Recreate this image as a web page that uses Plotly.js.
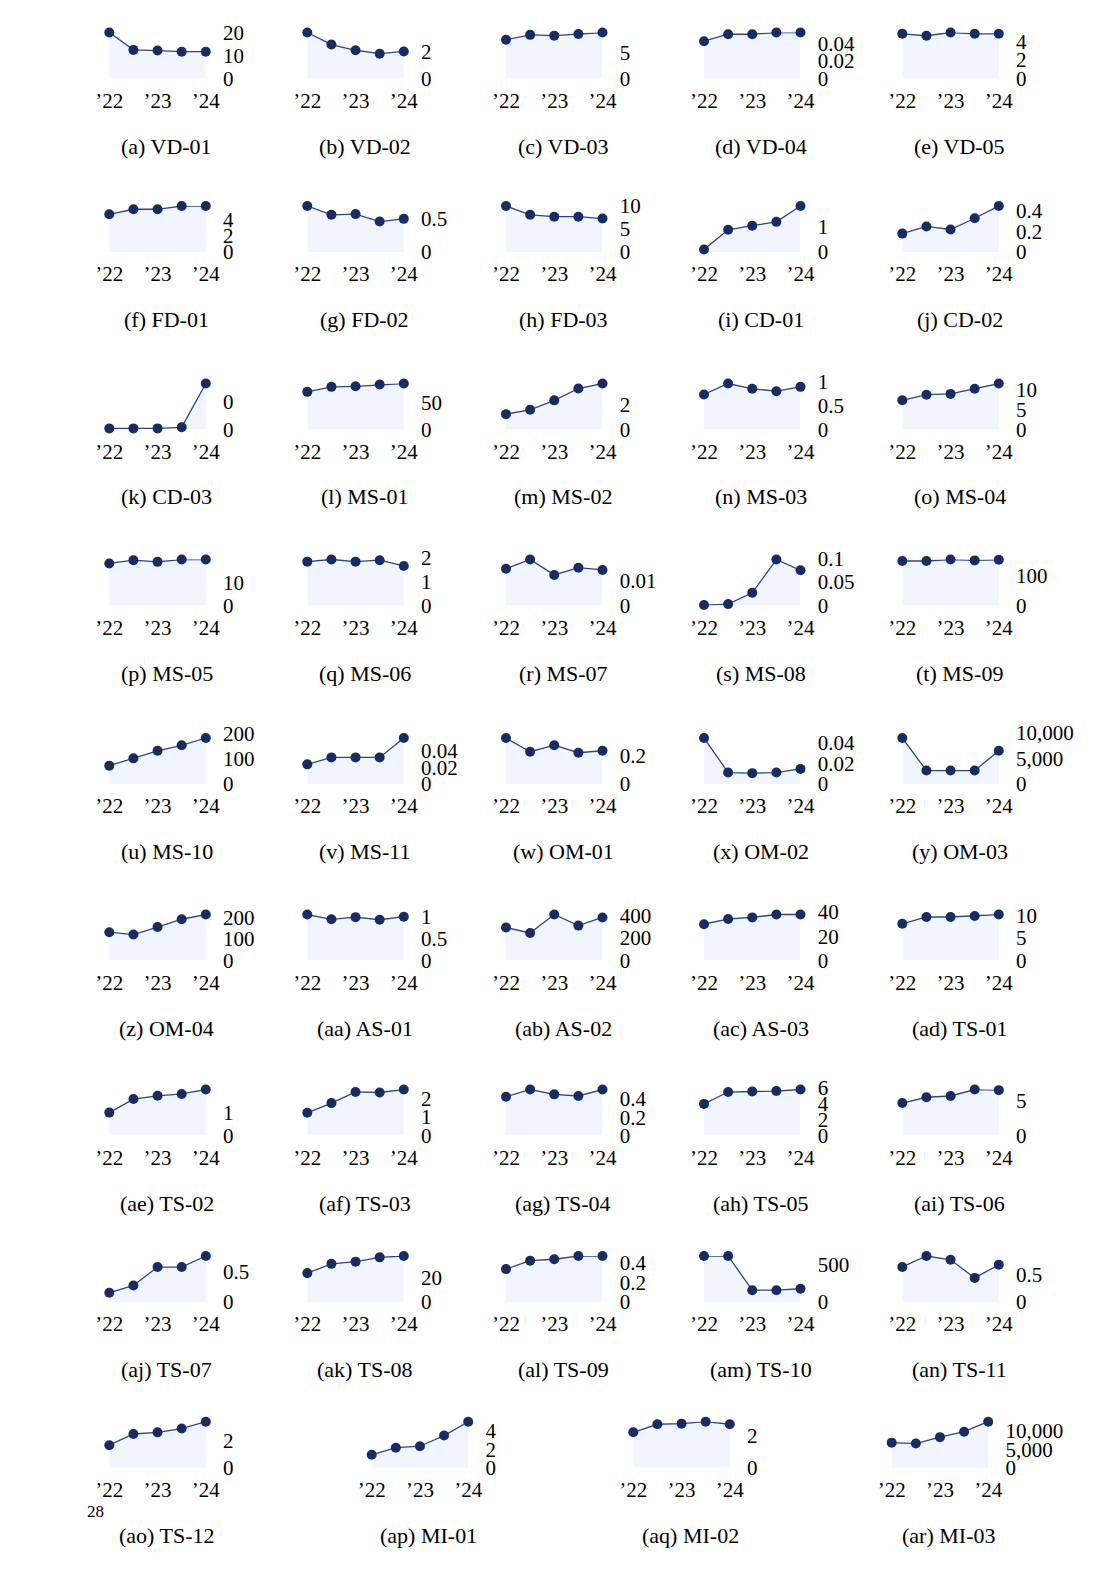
<!DOCTYPE html>
<html>
<head>
<meta charset="utf-8">
<script src="https://cdn.plot.ly/plotly-3.0.1.min.js"></script>
<style>html,body{margin:0;padding:0;background:#fff;}#chart{width:1110px;height:1574px;}</style>
</head>
<body>
<div id="chart"></div>
<script>
// ---------- DATA ----------
const periods = [2022, 2022.5, 2023, 2023.5, 2024];
const xTickVals = [2022, 2023, 2024];
const xTickText = ["\u201922", "\u201923", "\u201924"];

const panelLabels = ["(a) VD-01","(b) VD-02","(c) VD-03","(d) VD-04","(e) VD-05",
  "(f) FD-01","(g) FD-02","(h) FD-03","(i) CD-01","(j) CD-02",
  "(k) CD-03","(l) MS-01","(m) MS-02","(n) MS-03","(o) MS-04",
  "(p) MS-05","(q) MS-06","(r) MS-07","(s) MS-08","(t) MS-09",
  "(u) MS-10","(v) MS-11","(w) OM-01","(x) OM-02","(y) OM-03",
  "(z) OM-04","(aa) AS-01","(ab) AS-02","(ac) AS-03","(ad) TS-01",
  "(ae) TS-02","(af) TS-03","(ag) TS-04","(ah) TS-05","(ai) TS-06",
  "(aj) TS-07","(ak) TS-08","(al) TS-09","(am) TS-10","(an) TS-11",
  "(ao) TS-12","(ap) MI-01","(aq) MI-02","(ar) MI-03"];

const seriesValues = [
  [20.1, 12.5, 12.2, 11.7, 11.7],
  [3.47, 2.56, 2.13, 1.87, 2.04],
  [7.4, 8.35, 8.2, 8.5, 8.8],
  [0.043, 0.051, 0.051, 0.053, 0.053],
  [4.84, 4.63, 4.98, 4.84, 4.84],
  [4.72, 5.35, 5.35, 5.76, 5.76],
  [0.68, 0.55, 0.56, 0.45, 0.49],
  [9.9, 8.0, 7.6, 7.6, 7.2],
  [0.1, 0.87, 1.03, 1.18, 1.8],
  [0.18, 0.25, 0.22, 0.33, 0.45],
  [0.00002, 0.00002, 0.00002, 0.00004, 0.00083],
  [69.7, 79, 80, 83.3, 85.2],
  [1.25, 1.6, 2.37, 3.33, 3.74],
  [0.73, 0.96, 0.85, 0.80, 0.89],
  [7.3, 8.7, 8.9, 10.2, 11.5],
  [18, 19.4, 18.7, 19.7, 19.7],
  [1.84, 1.93, 1.84, 1.9, 1.66],
  [0.0148, 0.0185, 0.0123, 0.0152, 0.0143],
  [0.001, 0.003, 0.027, 0.098, 0.075],
  [147, 147, 152, 149, 151],
  [73, 102, 132, 154, 183],
  [0.0235, 0.0318, 0.0318, 0.0318, 0.055],
  [0.325, 0.228, 0.274, 0.221, 0.235],
  [0.0445, 0.0111, 0.0105, 0.0111, 0.0146],
  [8980, 2630, 2630, 2630, 6480],
  [131, 120, 155, 191, 213],
  [1.05, 0.94, 0.99, 0.93, 1.0],
  [291, 243, 406, 308, 380],
  [29.9, 34.2, 35.5, 37.9, 37.9],
  [8.1, 9.6, 9.6, 9.8, 10.15],
  [0.98, 1.56, 1.7, 1.78, 1.97],
  [1.22, 1.74, 2.34, 2.31, 2.47],
  [0.425, 0.504, 0.451, 0.433, 0.504],
  [4.0, 5.5, 5.57, 5.62, 5.82],
  [4.64, 5.47, 5.65, 6.58, 6.49],
  [0.15, 0.27, 0.57, 0.57, 0.75],
  [23.5, 31, 32.8, 36.3, 37.4],
  [0.334, 0.42, 0.434, 0.467, 0.467],
  [619, 619, 159, 159, 178],
  [0.64, 0.84, 0.77, 0.44, 0.68],
  [1.65, 2.47, 2.59, 2.87, 3.37],
  [1.39, 2.16, 2.32, 3.47, 4.97],
  [2.2, 2.7, 2.74, 2.86, 2.7],
  [6840, 6580, 8340, 9820, 12550]
];

const yTickVals = [
  [0,10,20],[0,2],[0,5],[0,0.02,0.04],[0,2,4],
  [0,2,4],[0,0.5],[0,5,10],[0,1],[0,0.2,0.4],
  [0,0.0005],[0,50],[0,2],[0,0.5,1],[0,5,10],
  [0,10],[0,1,2],[0,0.01],[0,0.05,0.1],[0,100],
  [0,100,200],[0,0.02,0.04],[0,0.2],[0,0.02,0.04],[0,5000,10000],
  [0,100,200],[0,0.5,1],[0,200,400],[0,20,40],[0,5,10],
  [0,1],[0,1,2],[0,0.2,0.4],[0,2,4,6],[0,5],
  [0,0.5],[0,20],[0,0.2,0.4],[0,500],[0,0.5],
  [0,2],[0,2,4],[0,2],[0,5000,10000]
];
const yTickText = [
  ["0","10","20"],["0","2"],["0","5"],["0","0.02","0.04"],["0","2","4"],
  ["0","2","4"],["0","0.5"],["0","5","10"],["0","1"],["0","0.2","0.4"],
  ["0","0"],["0","50"],["0","2"],["0","0.5","1"],["0","5","10"],
  ["0","10"],["0","1","2"],["0","0.01"],["0","0.05","0.1"],["0","100"],
  ["0","100","200"],["0","0.02","0.04"],["0","0.2"],["0","0.02","0.04"],["0","5,000","10,000"],
  ["0","100","200"],["0","0.5","1"],["0","200","400"],["0","20","40"],["0","5","10"],
  ["0","1"],["0","1","2"],["0","0.2","0.4"],["0","2","4","6"],["0","5"],
  ["0","0.5"],["0","20"],["0","0.2","0.4"],["0","500"],["0","0.5"],
  ["0","2"],["0","2","4"],["0","2"],["0","5,000","10,000"]
];

// ---------- LAYOUT CONSTANTS ----------
const W = 1110, H = 1574;
const rowZero = [78.5, 252, 429.5, 605.5, 784, 960.5, 1135.5, 1302, 1467.7];
const colX = [109.3, 307.3, 506, 704, 902.3];
const lastRowX = [109.3, 371.7, 633.3, 891.7];
const PW = 96.5, PH = 46;
const FONT = "Liberation Serif, Times New Roman, serif";
const lineColor = "#2d4580", markerColor = "#172c63", fillColor = "#f1f5fd";

const traces = [];
const layout = {
  width: W, height: H,
  margin: {l: 0, r: 0, t: 0, b: 0},
  paper_bgcolor: "#fff", plot_bgcolor: "rgba(0,0,0,0)",
  showlegend: false,
  annotations: []
};

for (let i = 0; i < seriesValues.length; i++) {
  let r, x0;
  if (i < 40) { r = Math.floor(i / 5); x0 = colX[i % 5]; }
  else { r = 8; x0 = lastRowX[i - 40]; }
  const zero = rowZero[r];
  const n = i + 1;
  const xa = "xaxis" + (n === 1 ? "" : n), ya = "yaxis" + (n === 1 ? "" : n);
  const xr = "x" + (n === 1 ? "" : n), yr = "y" + (n === 1 ? "" : n);
  const vals = seriesValues[i];
  const dataMax = Math.max(...vals);
  const rangeMax = Math.max(dataMax, Math.max(...yTickVals[i]) * 1.02);
  const ph = PH * rangeMax / dataMax;
  traces.push({
    type: "scatter", mode: "lines+markers",
    x: periods, y: vals, xaxis: xr, yaxis: yr,
    fill: "tozeroy", fillcolor: fillColor,
    line: {color: lineColor, width: 1.3},
    marker: {color: markerColor, size: 10},
    cliponaxis: false, hoverinfo: "skip"
  });
  layout[xa] = {
    domain: [x0 / W, (x0 + PW) / W],
    range: [2022, 2024], anchor: yr,
    showgrid: false, zeroline: false, showline: false,
    tickmode: "array", tickvals: xTickVals, ticktext: xTickText,
    ticks: "outside", ticklen: 3, tickcolor: "rgba(0,0,0,0)",
    tickfont: {family: FONT, size: 21, color: "#000"},
    fixedrange: true
  };
  layout[ya] = {
    domain: [(H - zero) / H, Math.min(1, (H - zero + ph) / H)],
    range: [0, rangeMax], anchor: xr, side: "right",
    showgrid: false, zeroline: false, showline: false,
    tickmode: "array", tickvals: yTickVals[i], ticktext: yTickText[i],
    ticks: "outside", ticklen: 12, tickcolor: "rgba(0,0,0,0)",
    tickfont: {family: FONT, size: 21, color: "#000"},
    fixedrange: true
  };
  layout.annotations.push({
    text: panelLabels[i], xref: "paper", yref: "paper",
    x: (x0 + PW / 2 + 9) / W, y: (H - zero - 67.5) / H,
    xanchor: "center", yanchor: "middle", showarrow: false,
    font: {family: FONT, size: 22, color: "#000"}
  });
}
layout.annotations.push({
  text: "28", xref: "paper", yref: "paper",
  x: 95 / W, y: (H - 1511) / H, xanchor: "center", yanchor: "middle",
  showarrow: false, font: {family: FONT, size: 17, color: "#000"}
});

Plotly.newPlot("chart", traces, layout, {staticPlot: true, displayModeBar: false});
</script>
</body>
</html>
